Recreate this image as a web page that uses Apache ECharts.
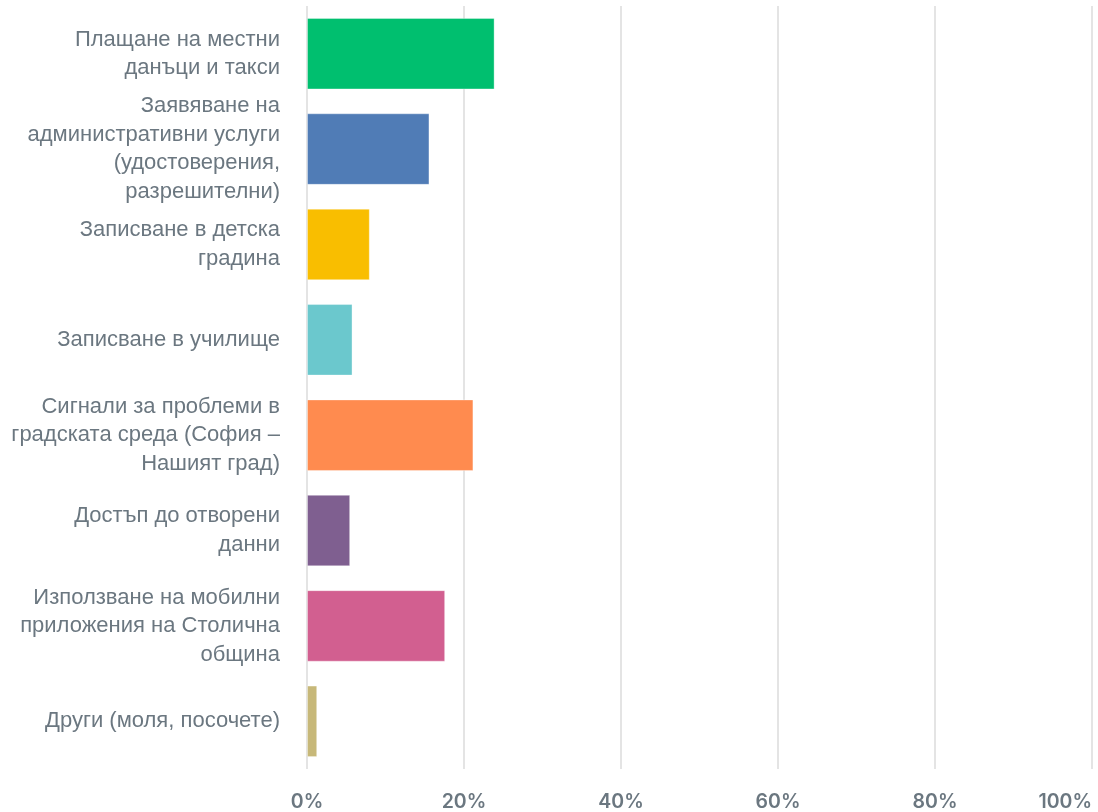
<!DOCTYPE html>
<html>
<head>
<meta charset="utf-8">
<script src="https://cdn.jsdelivr.net/npm/echarts@6/dist/echarts.min.js"></script>
<style>
  html, body { margin: 0; padding: 0; background: #fff; }
  #chart { width: 1098px; height: 812px; }
</style>
</head>
<body>
<div id="chart"></div>
<script>
// Answer options, shown top to bottom
const categories = [
  'Плащане на местни\nданъци и такси',
  'Заявяване на\nадминистративни услуги\n(удостоверения,\nразрешителни)',
  'Записване в детска\nградина',
  'Записване в училище',
  'Сигнали за проблеми в\nградската среда (София –\nНашият град)',
  'Достъп до отворени\nданни',
  'Използване на мобилни\nприложения на Столична\nобщина',
  'Други (моля, посочете)'
];

// Share of respondents, percent
const values = [23.9, 15.6, 8.0, 5.8, 21.2, 5.5, 17.6, 1.3];

// One colour per answer
const barColors = ['#00bf6f', '#507cb6', '#f9be00', '#6bc8cd', '#ff8b4f', '#7f5f90', '#d25f90', '#c7b879'];

// Value axis ticks
const xTicks = [0, 20, 40, 60, 80, 100];

const chart = echarts.init(document.getElementById('chart'), null, { renderer: 'canvas' });

chart.setOption({
  animation: false,
  grid: { left: 307, right: 6, top: 6, bottom: 43, containLabel: false },
  xAxis: {
    type: 'value',
    min: xTicks[0],
    max: xTicks[xTicks.length - 1],
    interval: xTicks[1] - xTicks[0],
    axisLine: { show: false },
    axisTick: { show: false },
    splitLine: { show: true, lineStyle: { color: '#e4e4e4', width: 2 } },
    axisLabel: {
      formatter: v => v + '%',
      color: '#6b7780',
      fontFamily: 'Inter',
      fontWeight: 600,
      fontSize: 19.5,
      margin: 23,
      alignMaxLabel: 'right'
    }
  },
  yAxis: {
    type: 'category',
    inverse: true,
    data: categories,
    axisLine: { show: false },
    axisTick: { show: false },
    splitLine: { show: false },
    axisLabel: {
      color: '#6b7780',
      fontFamily: '"Liberation Sans", Arial, sans-serif',
      fontSize: 22,
      lineHeight: 28.5,
      margin: 27,
      align: 'right'
    }
  },
  series: [{
    type: 'bar',
    barCategoryGap: '25%',
    data: values.map((v, i) => ({
      value: v,
      itemStyle: { color: barColors[i] }
    })),
    itemStyle: { borderColor: 'rgba(255,255,255,0.35)', borderWidth: 1 }
  }]
});
</script>
</body>
</html>
